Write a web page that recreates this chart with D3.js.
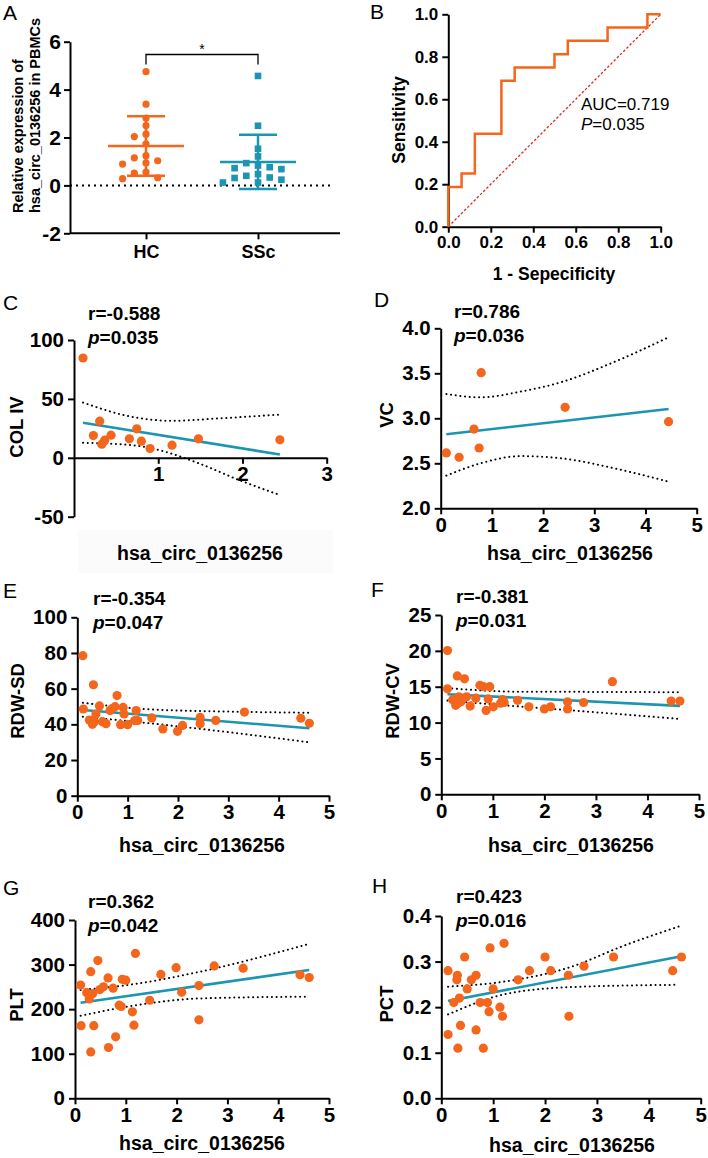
<!DOCTYPE html>
<html>
<head>
<meta charset="utf-8">
<script src="https://cdn.jsdelivr.net/npm/d3@7"></script>
<style>
  body { margin: 0; background: #fff; }
  svg { display: block; font-family: "Liberation Sans", Arial, sans-serif; }
</style>
</head>
<body>
<svg id="fig" width="708" height="1158"></svg>
<script>
// ---- panel A: expression in PBMCs ----
var groupNames = ["HC", "SSc"];
var hcValues = [4.75, 3.39, 2.81, 2.5, 2.14, 2.04, 1.74, 1.24, 1.15, 1.03, 0.94, 0.89, 0.51, 0.56, 0.28, 0.32];
var sscValues = [4.57, 2.49, 1.53, 1.21, 0.93, 0.72, 0.76, 0.83, 0.68, 0.47, 0.33, 0.31, 0.40, 0.24, 0.12, 0.12];
var exprTicks = [-2, 0, 2, 4, 6];

// ---- panel B: ROC ----
var rocFpr = [0, 0, 0.0625, 0.0625, 0.125, 0.125, 0.25, 0.25, 0.3125, 0.3125, 0.5, 0.5, 0.5625, 0.5625, 0.75, 0.75, 0.9375, 0.9375, 1];
var rocTpr = [0, 0.1875, 0.1875, 0.25, 0.25, 0.4375, 0.4375, 0.6875, 0.6875, 0.75, 0.75, 0.8125, 0.8125, 0.875, 0.875, 0.9375, 0.9375, 1, 1];
var rocTicks = [0, 0.2, 0.4, 0.6, 0.8, 1.0];
var aucText = "AUC=0.719";
var rocP = "0.035";

// ---- panels C-H: correlations ----
var circLabel = "hsa_circ_0136256";
var yLabels = ["COL IV", "VC", "RDW-SD", "RDW-CV", "PLT", "PCT"];
var rValues = ["-0.588", "0.786", "-0.354", "-0.381", "0.362", "0.423"];
var pValues = ["0.035", "0.036", "0.047", "0.031", "0.042", "0.016"];

var colX = [0.107, 0.305, 0.23, 0.364, 0.33, 0.44, 0.657, 0.745, 0.8, 0.903, 1.164, 1.477, 2.444];
var colY = [84.7, 31.1, 18.9, 15.0, 11.6, 19.2, 16.1, 24.6, 14.1, 7.9, 10.7, 16.1, 15.3];
var colFit = [[0.107, 29.7], [2.444, 2.8]];
var colCiUp = [[0.107, 46.9], [0.693, 34.7], [1.168, 31.4], [1.683, 33.3], [2.444, 36.7]];
var colCiLo = [[0.107, 12.7], [0.693, 10.7], [1.01, 6.5], [1.485, -4.8], [1.96, -18.9], [2.444, -31.6]];
var colTicks = [-50, 0, 50, 100];
var colXTicks = [1, 2, 3];

var vcX = [0.11, 0.36, 0.65, 0.75, 0.79, 2.43, 4.45];
var vcY = [2.615, 2.567, 2.88, 2.67, 3.507, 3.122, 2.963];
var vcFit = [[0.11, 2.822], [4.45, 3.104]];
var vcCiUp = [[0.11, 3.27], [0.78, 3.233], [1.56, 3.296], [2.345, 3.4], [3.39, 3.626], [4.45, 3.9]];
var vcCiLo = [[0.11, 2.363], [0.78, 2.5], [1.56, 2.58], [2.345, 2.556], [3.39, 2.444], [4.45, 2.296]];
var vcTicks = [2.0, 2.5, 3.0, 3.5, 4.0];

var rdwSdX = [0.11, 0.12, 0.32, 0.24, 0.30, 0.37, 0.34, 0.44, 0.5, 0.57, 0.65, 0.69, 0.75, 0.79, 0.86, 0.91, 0.93, 1.0, 1.14, 1.17, 1.2, 1.48, 1.7, 1.99, 2.09, 2.44, 2.44, 2.75, 3.32, 4.44, 4.61];
var rdwSdY = [78.5, 48.6, 62.2, 42.4, 40, 45.8, 41.5, 50.3, 41.5, 40.4, 47.7, 48.8, 49.9, 56.1, 39.8, 49.5, 45.8, 39.8, 42.1, 47.7, 42.1, 43.6, 37.4, 36.1, 39.4, 43.9, 40.4, 42.2, 46.9, 43.4, 40.6];
var rdwSdFit = [[0.11, 48.0], [4.61, 37.8]];
var rdwSdCiUp = [[0.11, 52.1], [1.44, 48.4], [3.1, 47.1], [4.61, 46.5]];
var rdwSdCiLo = [[0.11, 44.3], [1.44, 40.6], [3.1, 35.3], [4.61, 29.9]];
var rdwSdTicks = [0, 20, 40, 60, 80, 100];

var rdwCvX = [0.12, 0.12, 0.22, 0.31, 0.28, 0.34, 0.32, 0.38, 0.45, 0.49, 0.56, 0.67, 0.75, 0.82, 0.87, 0.91, 0.94, 1.01, 1.15, 1.19, 1.22, 1.48, 1.70, 2.0, 2.12, 2.45, 2.45, 2.76, 3.32, 4.46, 4.63];
var rdwCvY = [20.05, 14.7, 13.2, 16.5, 12.4, 13.6, 12.7, 12.9, 16.1, 13.6, 12.3, 13.4, 15.2, 15.0, 11.7, 13.3, 15.0, 12.2, 12.7, 13.2, 12.8, 13.1, 12.2, 11.9, 12.2, 12.9, 11.9, 12.8, 15.7, 13.0, 13.0];
var rdwCvFit = [[0.12, 13.95], [4.63, 12.33]];
var rdwCvCiUp = [[0.12, 14.8], [1.54, 14.3], [2.83, 14.28], [4.63, 14.23]];
var rdwCvCiLo = [[0.12, 13.07], [1.54, 12.23], [2.83, 11.53], [4.63, 10.51]];
var rdwCvTicks = [0, 5, 10, 15, 20, 25];

var pltX = [0.11, 0.12, 0.23, 0.28, 0.31, 0.31, 0.35, 0.37, 0.45, 0.49, 0.56, 0.65, 0.66, 0.75, 0.80, 0.87, 0.91, 0.93, 1.0, 1.13, 1.16, 1.19, 1.47, 1.69, 1.99, 2.1, 2.44, 2.44, 2.74, 3.31, 4.43, 4.61];
var pltY = [254, 163, 237, 223, 284, 104, 235, 163, 309, 244, 250, 270, 114, 247, 138, 209, 206, 267, 265, 194, 164, 325, 220, 278, 293, 238, 253, 176, 297, 292, 277, 271];
var pltFit = [[0.11, 214.5], [4.61, 287.7]];
var pltCiUp = [[0.11, 243], [1.15, 256], [2.46, 284], [4.56, 345]];
var pltCiLo = [[0.11, 185], [1.15, 208], [2.46, 224], [4.56, 228]];
var pltTicks = [0, 100, 200, 300, 400];

var pctX = [0.13, 0.13, 0.24, 0.31, 0.30, 0.32, 0.35, 0.37, 0.45, 0.50, 0.58, 0.67, 0.67, 0.75, 0.81, 0.89, 0.92, 0.94, 1.0, 1.13, 1.18, 1.21, 1.48, 1.70, 2.0, 2.11, 2.45, 2.46, 2.75, 3.32, 4.46, 4.63];
var pctY = [0.28, 0.14, 0.21, 0.27, 0.26, 0.11, 0.22, 0.16, 0.31, 0.24, 0.26, 0.27, 0.15, 0.21, 0.11, 0.21, 0.19, 0.33, 0.24, 0.20, 0.18, 0.34, 0.26, 0.28, 0.31, 0.28, 0.27, 0.18, 0.29, 0.31, 0.28, 0.31];
var pctFit = [[0.13, 0.2136], [4.63, 0.3116]];
var pctCiUp = [[0.13, 0.245], [1.21, 0.256], [2.49, 0.288], [3.5, 0.334], [4.63, 0.379]];
var pctCiLo = [[0.13, 0.184], [1.21, 0.228], [2.49, 0.244], [4.55, 0.249]];
var pctTicks = [0, 0.1, 0.2, 0.3, 0.4];

var xTicks5 = [0, 1, 2, 3, 4, 5];

var orange = "#f4661c";
var teal = "#1b95b2";
var svg = d3.select("#fig");

// plain hyphen for negatives, as in the figure
var loc = d3.formatLocale({ decimal: ".", thousands: ",", grouping: [3], currency: ["", ""], minus: "-" });

function styleAxis(g, size) {
  g.select(".domain").attr("stroke", "#000").attr("stroke-width", 2);
  g.selectAll(".tick line").attr("stroke", "#000").attr("stroke-width", 2);
  g.selectAll(".tick text").attr("font-size", size).attr("font-weight", "bold")
    .attr("fill", "#000").attr("font-family", null);
}

function letter(t, x, y) {
  svg.append("text").attr("x", x).attr("y", y).attr("font-size", 21).text(t);
}

function vLabel(t, x, y, size, anchor) {
  svg.append("text")
    .attr("transform", "translate(" + x + "," + y + ") rotate(-90)")
    .attr("text-anchor", anchor || "middle")
    .attr("dy", "0.35em")
    .attr("font-size", size).attr("font-weight", "bold")
    .text(t);
}

// spread overlapping points sideways, like a column scatter
function spread(values, yScale, step, gap) {
  var off = new Array(values.length);
  var placed = [];
  var cand = [0, -1, 1, -2, 2, -3, 3];
  d3.range(values.length).sort(function (a, b) { return values[b] - values[a]; })
    .forEach(function (i) {
      var py = yScale(values[i]);
      for (var k = 0; k < cand.length; k++) {
        var c = cand[k];
        var hit = placed.some(function (p) { return p.c === c && Math.abs(p.y - py) < gap; });
        if (!hit) { off[i] = c * step; placed.push({ c: c, y: py }); break; }
      }
    });
  return off;
}

// ================= A =================
letter("A", 3, 20);
var yA = d3.scaleLinear().domain([-2, 6]).range([233.3, 41.7]);
var xA = d3.scalePoint().domain(groupNames).range([146, 258]);

var ayA = svg.append("g").attr("transform", "translate(70,0)")
  .call(d3.axisLeft(yA).tickValues(exprTicks).tickSize(6).tickSizeOuter(0).tickPadding(3).tickFormat(loc.format("d")));
styleAxis(ayA, 21);

svg.append("line").attr("x1", 70).attr("x2", 340).attr("y1", yA(-2)).attr("y2", yA(-2))
  .attr("stroke", "#000").attr("stroke-width", 2);
var axA = svg.append("g").attr("transform", "translate(0," + yA(-2) + ")")
  .call(d3.axisBottom(xA).tickSize(6).tickPadding(6));
axA.select(".domain").remove();
styleAxis(axA, 18);

svg.append("line").attr("x1", 70).attr("x2", 334).attr("y1", yA(0)).attr("y2", yA(0))
  .attr("stroke", "#000").attr("stroke-width", 2).attr("stroke-dasharray", "2,4");

[[hcValues, orange], [sscValues, teal]].forEach(function (grp, gi) {
  var vals = grp[0], col = grp[1], cx = xA(groupNames[gi]);
  var m = d3.mean(vals), sd = d3.deviation(vals);
  var off = spread(vals, yA, 11.7, 7);
  var gg = svg.append("g");
  if (gi === 0) {
    gg.selectAll("circle").data(vals).enter().append("circle")
      .attr("cx", function (d, i) { return cx + off[i]; })
      .attr("cy", function (d) { return yA(d); })
      .attr("r", 3.6).attr("fill", col);
  } else {
    gg.selectAll("rect").data(vals).enter().append("rect")
      .attr("x", function (d, i) { return cx + off[i] - 3.3; })
      .attr("y", function (d) { return yA(d) - 3.3; })
      .attr("width", 6.6).attr("height", 6.6).attr("fill", col);
  }
  gg.append("line").attr("x1", cx - 38).attr("x2", cx + 38).attr("y1", yA(m)).attr("y2", yA(m))
    .attr("stroke", col).attr("stroke-width", 2.5);
  gg.append("line").attr("x1", cx).attr("x2", cx).attr("y1", yA(m + sd)).attr("y2", yA(m - sd))
    .attr("stroke", col).attr("stroke-width", 2.5);
  [m + sd, m - sd].forEach(function (v) {
    gg.append("line").attr("x1", cx - 19).attr("x2", cx + 19).attr("y1", yA(v)).attr("y2", yA(v))
      .attr("stroke", col).attr("stroke-width", 2.5);
  });
});

svg.append("path")
  .attr("d", "M" + xA("HC") + ",64.5V54.5H" + xA("SSc") + "V64.5")
  .attr("fill", "none").attr("stroke", "#000").attr("stroke-width", 1.3);
svg.append("text").attr("x", (xA("HC") + xA("SSc")) / 2).attr("y", 54)
  .attr("text-anchor", "middle").attr("font-size", 14).text("*");

svg.append("text").attr("transform", "translate(18,213) rotate(-90)")
  .attr("dy", "0.35em").attr("font-size", 14.5).attr("font-weight", "bold").text("Relative expression of");
svg.append("text").attr("transform", "translate(35,213) rotate(-90)")
  .attr("dy", "0.35em").attr("font-size", 14.5).attr("font-weight", "bold").text(circLabel + " in PBMCs");

// ================= B =================
letter("B", 370, 19);
var xB = d3.scaleLinear().domain([0, 1]).range([448.3, 660.7]);
var yB = d3.scaleLinear().domain([0, 1]).range([226.7, 14.3]);
var ayB = svg.append("g").attr("transform", "translate(" + xB(0) + ",0)")
  .call(d3.axisLeft(yB).tickValues(rocTicks).tickSize(6).tickSizeOuter(0).tickPadding(4).tickFormat(d3.format(".1f")));
styleAxis(ayB, 17);
var axB = svg.append("g").attr("transform", "translate(0," + yB(0) + ")")
  .call(d3.axisBottom(xB).tickValues(rocTicks).tickSize(6).tickSizeOuter(0).tickPadding(3).tickFormat(d3.format(".1f")));
styleAxis(axB, 17);

svg.append("line").attr("x1", xB(0)).attr("y1", yB(0)).attr("x2", xB(1)).attr("y2", yB(1))
  .attr("stroke", "#e8221c").attr("stroke-width", 1.3).attr("stroke-dasharray", "2.5,2");
svg.append("path").datum(d3.range(rocFpr.length))
  .attr("d", d3.line().x(function (i) { return xB(rocFpr[i]); }).y(function (i) { return yB(rocTpr[i]); }))
  .attr("fill", "none").attr("stroke", orange).attr("stroke-width", 2.5);

svg.append("text").attr("x", 581).attr("y", 110).attr("font-size", 17).text(aucText);
var pB = svg.append("text").attr("x", 581).attr("y", 130).attr("font-size", 17);
pB.append("tspan").attr("font-style", "italic").text("P");
pB.append("tspan").text("=" + rocP);

vLabel("Sensitivity", 399, 120, 17.5);
svg.append("text").attr("x", 554).attr("y", 280).attr("text-anchor", "middle")
  .attr("font-size", 17.5).attr("font-weight", "bold").text("1 - Sepecificity");

// ================= C-H =================
var panels = [
  { key: "C", lx: 3, ly: 310, xs: colX, ys: colY, fit: colFit, up: colCiUp, lo: colCiLo,
    xr: [74, 326.7], xd: [0, 3], yr: [516.7, 340], yd: [-50, 100], yt: colTicks, xt: colXTicks, xAt: 0, yf: "d",
    tx: 88, ty: 320, ylx: 17, yly: 427, ttx: 200, tty: 553 },
  { key: "D", lx: 374, ly: 307, xs: vcX, ys: vcY, fit: vcFit, up: vcCiUp, lo: vcCiLo,
    xr: [440.7, 696.7], xd: [0, 5], yr: [508.3, 328.3], yd: [2, 4], yt: vcTicks, xt: xTicks5, xAt: 2, yf: ".1f",
    tx: 454, ty: 318, ylx: 387, yly: 415, ttx: 570, tty: 553 },
  { key: "E", lx: 3, ly: 598, xs: rdwSdX, ys: rdwSdY, fit: rdwSdFit, up: rdwSdCiUp, lo: rdwSdCiLo,
    xr: [77.3, 329], xd: [0, 5], yr: [795.7, 617.3], yd: [0, 100], yt: rdwSdTicks, xt: xTicks5, xAt: 0, yf: "d",
    tx: 93, ty: 605, ylx: 18, yly: 701, ttx: 202, tty: 845 },
  { key: "F", lx: 371, ly: 597, xs: rdwCvX, ys: rdwCvY, fit: rdwCvFit, up: rdwCvCiUp, lo: rdwCvCiLo,
    xr: [441.3, 699], xd: [0, 5], yr: [794.3, 615], yd: [0, 25], yt: rdwCvTicks, xt: xTicks5, xAt: 0, yf: "d",
    tx: 456, ty: 603, ylx: 393, yly: 701, ttx: 571, tty: 845 },
  { key: "G", lx: 3, ly: 895, xs: pltX, ys: pltY, fit: pltFit, up: pltCiUp, lo: pltCiLo,
    xr: [75, 329], xd: [0, 5], yr: [1098.3, 920], yd: [0, 400], yt: pltTicks, xt: xTicks5, xAt: 0, yf: "d",
    tx: 88, ty: 908, ylx: 17, yly: 1005, ttx: 202, tty: 1143 },
  { key: "H", lx: 372, ly: 893, xs: pctX, ys: pctY, fit: pctFit, up: pctCiUp, lo: pctCiLo,
    xr: [441.3, 700.7], xd: [0, 5], yr: [1098.3, 916], yd: [0, 0.4], yt: pctTicks, xt: xTicks5, xAt: 0, yf: ".1f",
    tx: 456, ty: 903, ylx: 387, yly: 1004, ttx: 572, tty: 1145 }
];

// very faint box behind the C axis title (present in the source image)
svg.append("rect").attr("x", 78).attr("y", 530).attr("width", 255).attr("height", 43).attr("fill", "#fbfbfb");

panels.forEach(function (c, pi) {
  var x = d3.scaleLinear().domain(c.xd).range(c.xr);
  var y = d3.scaleLinear().domain(c.yd).range(c.yr);
  var g = svg.append("g");

  letter(c.key, c.lx, c.ly);

  var ay = g.append("g").attr("transform", "translate(" + c.xr[0] + ",0)")
    .call(d3.axisLeft(y).tickValues(c.yt).tickSize(6).tickSizeOuter(0).tickPadding(4).tickFormat(loc.format(c.yf)));
  styleAxis(ay, 20.5);
  var ax = g.append("g").attr("transform", "translate(0," + y(c.xAt) + ")")
    .call(d3.axisBottom(x).tickValues(c.xt).tickSize(6).tickSizeOuter(0).tickPadding(3).tickFormat(loc.format("d")));
  styleAxis(ax, 20.5);

  var ln = d3.line().x(function (d) { return x(d[0]); }).y(function (d) { return y(d[1]); });
  [c.up, c.lo].forEach(function (band) {
    g.append("path").datum(band).attr("d", ln.curve(d3.curveMonotoneX))
      .attr("fill", "none").attr("stroke", "#000").attr("stroke-width", 2)
      .attr("stroke-linecap", "round").attr("stroke-dasharray", "0.1,4.6");
  });
  g.append("path").datum(c.fit).attr("d", ln.curve(d3.curveLinear))
    .attr("fill", "none").attr("stroke", teal).attr("stroke-width", 2.6);

  g.selectAll("circle.pt").data(c.xs).enter().append("circle").attr("class", "pt")
    .attr("cx", function (d) { return x(d); })
    .attr("cy", function (d, i) { return y(c.ys[i]); })
    .attr("r", 4.6).attr("fill", orange);

  g.append("text").attr("x", c.tx).attr("y", c.ty).attr("font-size", 19).attr("font-weight", "bold")
    .text("r=" + rValues[pi]);
  var pt = g.append("text").attr("x", c.tx).attr("y", c.ty + 24).attr("font-size", 19).attr("font-weight", "bold");
  pt.append("tspan").attr("font-style", "italic").text("p");
  pt.append("tspan").text("=" + pValues[pi]);

  vLabel(yLabels[pi], c.ylx, c.yly, 18.5);
  g.append("text").attr("x", c.ttx).attr("y", c.tty).attr("dy", "0.35em").attr("text-anchor", "middle")
    .attr("font-size", 19.5).attr("font-weight", "bold").text(circLabel);
});
</script>
</body>
</html>
